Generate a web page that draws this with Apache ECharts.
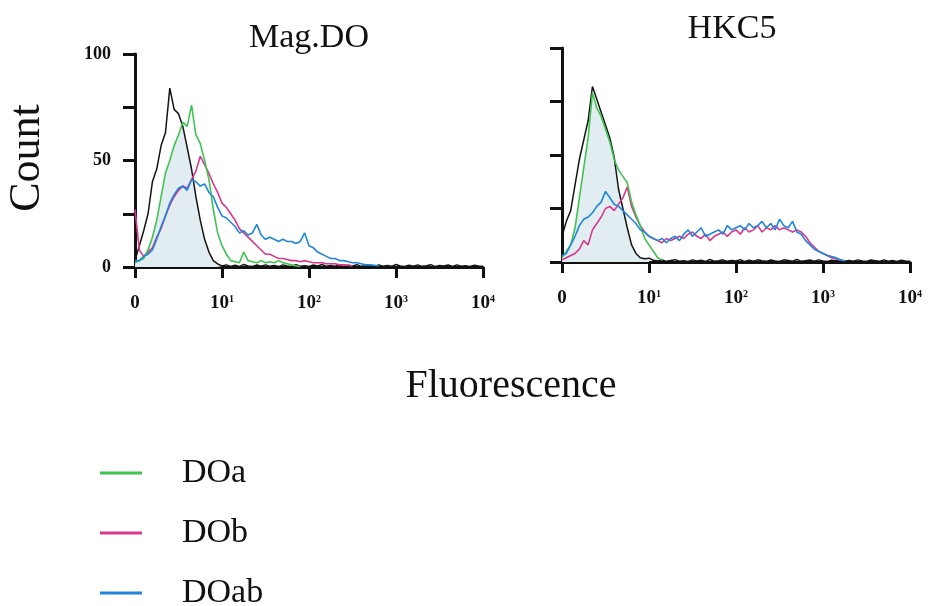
<!DOCTYPE html>
<html>
<head>
<meta charset="utf-8">
<script src="https://cdn.jsdelivr.net/npm/echarts@6/dist/echarts.min.js"></script>
<style>html,body{margin:0;padding:0;background:#fff}#c{width:932px;height:606px}</style>
</head>
<body>
<div id="c"></div>
<script>
// log10 fluorescence bin positions (0 = 10^0 labelled "0", 4 = 10^4)
var logFluor = [0,0.05,0.1,0.15,0.2,0.25,0.3,0.35,0.4,0.45,0.5,0.55,0.6,0.65,0.7,0.75,0.8,0.85,0.9,0.95,
1,1.05,1.1,1.15,1.2,1.25,1.3,1.35,1.4,1.45,1.5,1.55,1.6,1.65,1.7,1.75,1.8,1.85,1.9,1.95,
2,2.05,2.1,2.15,2.2,2.25,2.3,2.35,2.4,2.45,2.5,2.55,2.6,2.65,2.7,2.75,2.8,2.85,2.9,2.95,
3,3.05,3.1,3.15,3.2,3.25,3.3,3.35,3.4,3.45,3.5,3.55,3.6,3.65,3.7,3.75,3.8,3.85,3.9,3.95,4];

var panelTitles = ['Mag.DO','HKC5'];
var seriesNames = ['DOa','DOb','DOab'];
var xTickBase = ['0','10','10','10','10'];
var xTickExp = ['','1','2','3','4'];
var yTickShown = [0,50,100];

// Mag.DO panel
var magControl = [3,10,17,25,40,46,57,63,84,74,72,66,56,46,33,22,13,7,3,1.5,
0.5,1,0.3,0.8,0.2,1.2,0.5,0.2,0.9,0.4,1,0.3,0.7,0.2,1,0.5,0.3,1.1,0.4,0.6,
0.2,0.9,0.5,1.2,0.3,0.7,0.4,1,0.2,0.8,0.5,1.1,0.3,0.6,0.9,0.2,1,0.4,0.7,0.3,
1.2,0.5,0.2,0.8,0.4,1,0.3,0.6,1.1,0.2,0.7,0.5,0.9,0.3,1,0.4,0.6,0.2,0.8,0.5,0.3];
var magShade = [2,3,4,8,14,22,33,44,50,57,62,66,56,46,33,22,13,7,3,1.5,0.5];
var magDOa = [2,3,4,8,14,22,33,44,50,57,62,68,66,76,62,58,50,41,27,16,
10,6,3,2.5,2,7,3,2.5,2,3,2,2.5,2,3,2,1.5,1,0.5,0.3];
var magDOb = [27,8,5,7,9,14,18,24,29,33,36,38,37,41,45,52,48,44,39,35,
30,28,25,22,18,16,14,12,10,8,6,6,5,4,4,3.5,3,3,2.5,3,
2.5,2,2,2,1.5,1.5,1.5,1,1,0.8,0.5];
var magDOab = [3,3,5,6,8,13,19,24,30,34,37,38,36,41,40,38,39,35,33,28,
24,23,21,19,16,17,15,16,20,15,13,14,13,12,13,12,12,11,12,16,
10,9,7,6,5,4,4,3,3,2.5,2,2,1.5,1,1,0.8,0.5];

// HKC5 panel
var hkcControl = [12,19,24,36,48,57,66,82,76,70,64,58,49,34,25,16,8,4,2,1.5,
1.8,0.8,0.5,1,0.3,0.7,1.1,0.4,0.6,0.2,1,0.5,0.8,0.3,1.2,0.4,0.6,1,0.3,0.7,
0.5,1.1,0.2,0.8,0.4,1,0.6,0.3,0.9,0.5,0.2,1,0.7,0.4,1.2,0.3,0.6,0.9,0.4,1,
0.5,0.2,0.8,0.6,1.1,0.3,0.7,0.4,1,0.5,0.2,0.9,0.6,0.3,1,0.4,0.7,0.2,0.8,0.5,0.3];
var hkcShade = [2,5,8,16,30,44,58,76,72,68,62,56,48,34,24,15,8,4,2,1.5,1];
var hkcDOa = [2,5,8,16,30,44,58,79,72,68,62,56,48,43,40,37,28,22,17,11,
8,5,2,1];
var hkcDOb = [1,2,3,4,6,10,8,15,18,21,25,26,24,27,30,35,26,21,17,14,
12,11,10,9,11,10,11,12,11,13,14,12,11,13,10,12,13,14,12,14,
15,13,16,14,15,17,14,16,15,17,15,16,15,14,15,14,12,9,7,5,
4,3,2,1.5,1];
var hkcDOab = [3,4,8,12,17,20,21,23,26,28,33,30,27,26,24,22,20,18,15,14,
12,11,10,11,9,11,12,10,13,15,12,14,16,12,13,14,15,13,17,15,
16,17,15,18,16,17,19,16,18,15,20,17,16,19,14,13,10,8,6,5,
4,3,2.5,2,1,0.5];

var colors = {DOa:'#3fc452', DOb:'#d9388a', DOab:'#1f86dc', control:'#141414', shade:'#e2edf1'};
var serif = '"Liberation Serif","Times New Roman",serif';

function pts(arr){ var out=[]; for(var i=0;i<arr.length;i++){ out.push([logFluor[i], arr[i]]); } return out; }

var grids = [
  {left:135, right:449, top:54, bottom:339},
  {left:562, right:22, top:48, bottom:344}
];

function xAxis(idx){
  return {
    type:'value', gridIndex:idx, min:0, max:4, interval:1,
    axisLine:{show:true, onZero:false, lineStyle:{color:'#111', width:3}},
    axisTick:{show:true, length:11, lineStyle:{color:'#111', width:3}},
    splitLine:{show:false},
    axisLabel:{
      margin:27,
      formatter:function(v){ var k=Math.round(v); return xTickExp[k] ? '{b|'+xTickBase[k]+'}{s|'+xTickExp[k]+'}' : '{b|'+xTickBase[k]+'}'; },
      rich:{
        b:{fontFamily:serif, fontWeight:'bold', fontSize:19, color:'#111'},
        s:{fontFamily:serif, fontWeight:'bold', fontSize:10, color:'#111', verticalAlign:'top', padding:[0,0,8,0]}
      }
    }
  };
}
function yAxis(idx, labels){
  return {
    type:'value', gridIndex:idx, min:0, max:100, interval:25,
    axisLine:{show:true, lineStyle:{color:'#111', width:3}},
    axisTick:{show:true, length:12, lineStyle:{color:'#111', width:3}},
    splitLine:{show:false},
    axisLabel:{
      show:labels, margin:24, fontFamily:serif, fontWeight:'bold', fontSize:18, color:'#111',
      formatter:function(v){ return yTickShown.indexOf(v) >= 0 ? String(v) : ''; }
    }
  };
}

function panelSeries(idx, shade, control, a, b, ab){
  var base = {type:'line', xAxisIndex:idx, yAxisIndex:idx, showSymbol:false, symbol:'none', smooth:false, animation:false, z:2};
  return [
    Object.assign({}, base, {name:'shade', data:pts(shade), lineStyle:{width:0}, areaStyle:{color:colors.shade, opacity:1}, itemStyle:{color:colors.shade}, z:1}),
    Object.assign({}, base, {name:'control', data:pts(control), lineStyle:{width:1.5, color:colors.control}, itemStyle:{color:colors.control}}),
    Object.assign({}, base, {name:'DOb', data:pts(b), lineStyle:{width:1.6, color:colors.DOb}, itemStyle:{color:colors.DOb}}),
    Object.assign({}, base, {name:'DOa', data:pts(a), lineStyle:{width:1.6, color:colors.DOa}, itemStyle:{color:colors.DOa}}),
    Object.assign({}, base, {name:'DOab', data:pts(ab), lineStyle:{width:1.6, color:colors.DOab}, itemStyle:{color:colors.DOab}})
  ];
}

var chart = echarts.init(document.getElementById('c'), null, {renderer:'canvas'});
chart.setOption({
  backgroundColor:'#fff',
  animation:false,
  grid:grids,
  xAxis:[xAxis(0), xAxis(1)],
  yAxis:[yAxis(0,true), yAxis(1,false)],
  legend:{
    data:seriesNames, orient:'vertical', left:100, top:456, height:200, padding:0, icon:'rect',
    itemWidth:42, itemHeight:3, itemGap:26,
    textStyle:{fontFamily:serif, fontSize:34, color:'#111', lineHeight:28, padding:[0,0,0,35]}
  },
  graphic:[
    {type:'text', x:309, y:38, style:{text:panelTitles[0], font:'34px '+serif, fill:'#111', textAlign:'center', textVerticalAlign:'middle'}},
    {type:'text', x:732, y:29, style:{text:panelTitles[1], font:'34px '+serif, fill:'#111', textAlign:'center', textVerticalAlign:'middle'}},
    {type:'text', x:27, y:158, rotation:Math.PI/2, style:{text:'Count', font:'44px '+serif, fill:'#111', textAlign:'center', textVerticalAlign:'middle'}},
    {type:'text', x:511, y:386, style:{text:'Fluorescence', font:'40px '+serif, fill:'#111', textAlign:'center', textVerticalAlign:'middle'}}
  ],
  series:[].concat(
    panelSeries(0, magShade, magControl, magDOa, magDOb, magDOab),
    panelSeries(1, hkcShade, hkcControl, hkcDOa, hkcDOb, hkcDOab)
  )
});
</script>
</body>
</html>
